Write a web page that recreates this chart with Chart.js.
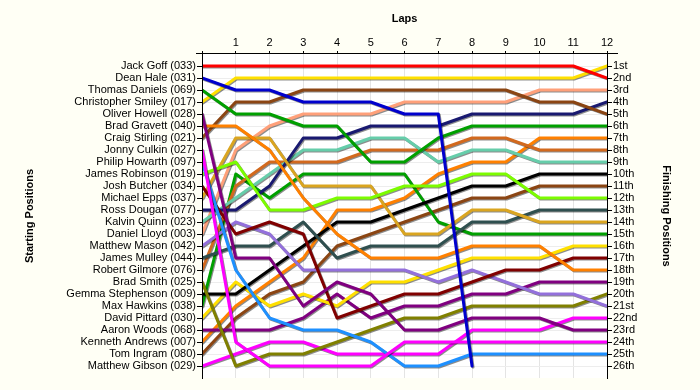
<!DOCTYPE html>
<html><head><meta charset="utf-8">
<script src="https://cdn.jsdelivr.net/npm/chart.js@4.4.1/dist/chart.umd.min.js"></script>
<style>html,body{margin:0;padding:0;background:#FFFFF5;} #wrap{width:700px;height:390px;}</style>
</head><body><div id="wrap"><canvas id="c" width="700" height="390"></canvas></div>
<script>
// ---- data ----
const laps = [0,1,2,3,4,5,6,7,8,9,10,11,12];
const lapTickLabels = ['', '1','2','3','4','5','6','7','8','9','10','11','12'];
const drivers = [
  'Jack Goff (033)','Dean Hale (031)','Thomas Daniels (069)','Christopher Smiley (017)',
  'Oliver Howell (028)','Brad Gravett (040)','Craig Stirling (021)','Jonny Culkin (027)',
  'Philip Howarth (097)','James Robinson (019)','Josh Butcher (034)','Michael Epps (037)',
  'Ross Dougan (077)','Kalvin Quinn (023)','Daniel Lloyd (003)','Matthew Mason (042)',
  'James Mulley (044)','Robert Gilmore (076)','Brad Smith (025)','Gemma Stephenson (009)',
  'Max Hawkins (038)','David Pittard (030)','Aaron Woods (068)','Kenneth Andrews (007)',
  'Tom Ingram (080)','Matthew Gibson (029)'
];
const finishLabels = ['1st','2nd','3rd','4th','5th','6th','7th','8th','9th','10th','11th','12th','13th',
  '14th','15th','16th','17th','18th','19th','20th','21st','22nd','23rd','24th','25th','26th'];
const colors = ['#FF0000','#0000CD','#00A000','#FFE000','#800080','#FF8000','#8B4513','#FF00FF',
  '#1E90FF','#7CFC00','#800000','#DAA520','#191970','#66CDAA','#FFA07A','#9370DB',
  '#2F4F4F','#D2691E','#808000','#000000','#00A000','#FFE000','#800080','#FF8000',
  '#8B4513','#FF00FF'];

const pos033 = [1,1,1,1,1,1,1,1,1,1,1,1,2];
const pos031 = [2,3,3,4,4,4,5,5,26,null,null,null,null];
const pos069 = [3,5,5,6,6,9,9,7,6,6,6,6,6];
const pos017 = [4,2,2,2,2,2,2,2,2,2,2,2,1];
const pos028 = [5,17,17,21,19,20,23,23,22,22,22,23,23];
const pos040 = [6,6,8,12,15,17,17,17,16,16,16,18,18];
const pos021 = [7,4,4,3,3,3,3,3,3,3,4,4,5];
const pos027 = [8,24,26,26,26,26,24,24,24,24,24,24,24];
const pos097 = [9,18,22,23,23,24,26,26,25,25,25,25,25];
const pos019 = [10,9,13,13,12,12,11,11,10,10,12,12,12];
const pos034 = [11,15,14,15,22,21,20,20,19,18,18,17,17];
const pos037 = [12,7,7,11,11,11,15,15,13,13,14,14,14];
const pos077 = [13,13,11,7,7,6,6,6,5,5,5,5,4];
const pos023 = [14,12,10,8,8,7,7,9,8,8,9,9,9];
const pos003 = [15,8,6,5,5,5,4,4,4,4,3,3,3];
const pos042 = [16,14,15,18,18,18,18,19,18,19,20,20,21];
const pos044 = [17,16,16,14,17,16,16,16,14,14,13,13,13];
const pos076 = [18,11,9,9,9,8,8,8,7,7,8,8,8];
const pos025 = [19,26,25,25,24,23,22,22,21,21,21,21,20];
const pos009 = [20,20,18,16,14,14,13,12,11,11,10,10,10];
const pos038 = [21,10,12,10,10,10,10,14,15,15,15,15,15];
const pos030 = [22,19,21,20,21,19,19,18,17,17,17,16,16];
const pos068 = [23,23,23,22,20,22,21,21,20,20,19,19,19];
const pos007 = [24,21,19,17,13,13,12,10,9,9,7,7,7];
const pos080 = [25,22,20,19,16,15,14,13,12,12,11,11,11];
const pos029 = [26,25,24,24,25,25,25,25,23,23,23,22,22];

const series = [pos033,pos031,pos069,pos017,pos028,pos040,pos021,pos027,pos097,pos019,pos034,pos037,
  pos077,pos023,pos003,pos042,pos044,pos076,pos025,pos009,pos038,pos030,pos068,pos007,pos080,pos029];

// ---- chart ----
Chart.defaults.font.family = "'Liberation Sans', Arial, sans-serif";
Chart.defaults.font.size = 11;
Chart.defaults.color = '#000';

const datasets = series.map((s, i) => ({
  label: drivers[i],
  data: s.map((v, j) => ({x: laps[j], y: v})),
  borderColor: colors[i],
  backgroundColor: colors[i],
  borderWidth: 3,
  pointRadius: 0,
  tension: 0,
  fill: false,
  spanGaps: false,
  borderJoinStyle: 'round',
  borderCapStyle: 'round',
  yAxisID: 'y'
}));

const bgPlugin = {id: 'bg', beforeDraw(chart) {
  const {ctx, chartArea: a} = chart;
  ctx.save();
  ctx.fillStyle = '#FFFFF5'; ctx.fillRect(0, 0, chart.width, chart.height);
  ctx.fillStyle = '#FFFFFF'; ctx.fillRect(a.left, a.top, a.right - a.left, a.bottom - a.top);
  ctx.restore();
}};
const shadowPlugin = {id: 'shadow',
  beforeDatasetDraw(chart) {
    const ctx = chart.ctx; ctx.save();
    ctx.shadowColor = 'rgba(0,0,0,0.45)'; ctx.shadowOffsetX = 1; ctx.shadowOffsetY = 1; ctx.shadowBlur = 0;
  },
  afterDatasetDraw(chart) { chart.ctx.restore(); }
};
const axisLinePlugin = {id: 'axisLine', afterDraw(chart) {
  const {ctx, chartArea: a} = chart;
  ctx.save(); ctx.strokeStyle = '#000'; ctx.lineWidth = 1;
  const y = Math.round(a.top) - 0.5;
  ctx.beginPath(); ctx.moveTo(a.left - 6, y); ctx.lineTo(a.right + 11, y); ctx.stroke();
  ctx.restore();
}};

const posTicks = drivers.map((d, i) => ({value: i + 1}));

new Chart(document.getElementById('c'), {
  type: 'line',
  data: {datasets},
  plugins: [bgPlugin, shadowPlugin, axisLinePlugin],
  options: {
    responsive: false, animation: false, devicePixelRatio: 1,
    layout: {padding: {bottom: 12}},
    plugins: {legend: {display: false}, tooltip: {enabled: false}},
    scales: {
      x: {
        type: 'linear', position: 'top', min: 0, max: 12,
        ticks: {stepSize: 1, padding: 1, autoSkip: false, maxRotation: 0, color: '#000',
          callback: (v) => lapTickLabels[v] ?? ''},
        grid: {color: '#E4E4E4', lineWidth: 1, tickLength: 3, tickColor: '#000', z: -1},
        border: {display: false},
        title: {display: true, text: 'Laps', color: '#000', font: {weight: 'bold', size: 11}, padding: {top: 12, bottom: 0}},
        afterFit: (s) => { s.height = 54; }
      },
      y: {
        type: 'linear', position: 'left', reverse: true, min: 0, max: 27,
        afterBuildTicks: (s) => { s.ticks = posTicks.map(t => ({value: t.value})); },
        ticks: {autoSkip: false, padding: 1, color: '#000', callback: (v) => drivers[v - 1]},
        grid: {color: '#EDEDED', lineWidth: 1, tickLength: 5, tickColor: '#000', z: -1},
        border: {display: true, color: '#000', width: 1, z: 1},
        title: {display: true, text: 'Starting Positions', color: '#000', font: {weight: 'bold', size: 11}, padding: {top: 23, bottom: 0}},
        afterFit: (s) => { s.width = 202; }
      },
      y2: {
        type: 'linear', position: 'right', reverse: true, min: 0, max: 27,
        afterBuildTicks: (s) => { s.ticks = posTicks.map(t => ({value: t.value})); },
        ticks: {autoSkip: false, padding: 1, color: '#000', callback: (v) => finishLabels[v - 1]},
        grid: {drawOnChartArea: false, tickLength: 5, tickColor: '#000', z: -1},
        border: {display: true, color: '#000', width: 1, z: 1},
        title: {display: true, text: 'Finishing Positions', color: '#000', font: {weight: 'bold', size: 11}, padding: {top: 27, bottom: 0}},
        afterFit: (s) => { s.width = 93; }
      }
    }
  }
});
</script></body></html>
